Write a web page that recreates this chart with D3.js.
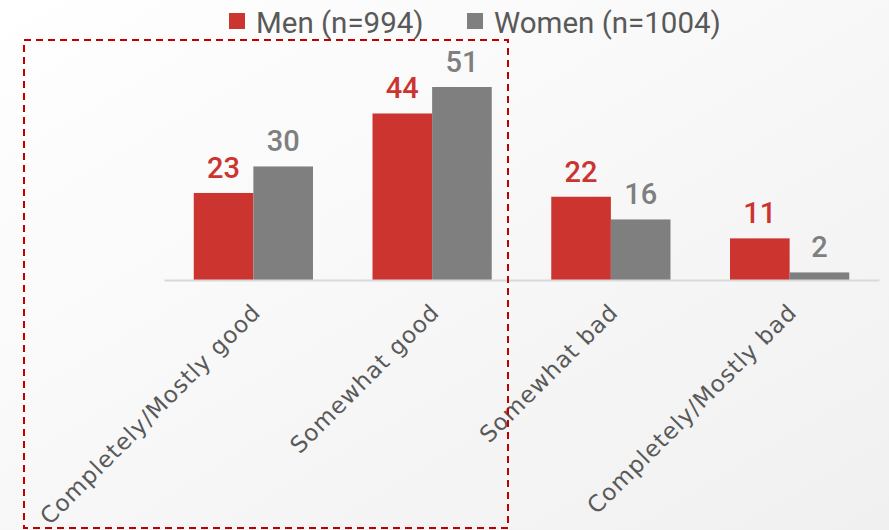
<!DOCTYPE html>
<html>
<head>
<meta charset="utf-8">
<script src="https://cdn.jsdelivr.net/npm/d3@7"></script>
<style>
  html, body { margin: 0; padding: 0; background: #fff; }
  svg { display: block; }
</style>
</head>
<body>
<svg id="chart" width="889" height="530"></svg>
<script>
const categories = ["Completely/Mostly good", "Somewhat good", "Somewhat bad", "Completely/Mostly bad"];
const seriesNames = ["Men (n=994)", "Women (n=1004)"];
const menValues = [23, 44, 22, 11];
const womenValues = [30, 51, 16, 2];
const seriesColors = ["#cc3430", "#7f7f7f"];

const W = 889, H = 530;
const svg = d3.select("#chart");

// background gradient
const defs = svg.append("defs");
const grad = defs.append("linearGradient").attr("id", "bg")
  .attr("x1", "0%").attr("y1", "0%").attr("x2", "100%").attr("y2", "100%");
grad.append("stop").attr("offset", "0%").attr("stop-color", "#ffffff");
grad.append("stop").attr("offset", "100%").attr("stop-color", "#f0f0f0");
svg.append("rect").attr("width", W).attr("height", H).attr("fill", "url(#bg)");

const baseY = 280;
const x0 = d3.scaleBand().domain(categories).range([164, 879]).paddingInner(0.333).paddingOuter(0.1665);
const x1 = d3.scaleBand().domain(seriesNames).range([0, x0.bandwidth()]);
const y = d3.scaleLinear().domain([0, 51]).range([baseY, 87]);

const data = categories.map((c, i) => ({cat: c, vals: [menValues[i], womenValues[i]]}));

const groups = svg.append("g").selectAll("g").data(data).join("g")
  .attr("transform", d => `translate(${x0(d.cat)},0)`);

groups.selectAll("rect").data(d => d.vals.map((v, j) => ({v, s: seriesNames[j], j})))
  .join("rect")
  .attr("x", d => x1(d.s))
  .attr("y", d => y(d.v))
  .attr("width", x1.bandwidth())
  .attr("height", d => baseY - y(d.v))
  .attr("fill", d => seriesColors[d.j]);

groups.selectAll("text.val").data(d => d.vals.map((v, j) => ({v, s: seriesNames[j], j})))
  .join("text")
  .attr("class", "val")
  .attr("x", d => x1(d.s) + x1.bandwidth() / 2)
  .attr("y", d => y(d.v) - 15)
  .attr("text-anchor", "middle")
  .attr("font-family", "Roboto, 'DejaVu Sans', sans-serif")
  .attr("font-size", 29)
  .attr("font-weight", 500)
  .attr("fill", d => seriesColors[d.j])
  .text(d => d.v);

// axis
const axis = d3.axisBottom(x0).tickSize(0).tickPadding(0);
const gAxis = svg.append("g").attr("transform", `translate(0,${baseY})`).call(axis);
gAxis.attr("font-family", null).attr("font-size", null);
gAxis.select(".domain").attr("stroke", "#d9d9d9").attr("stroke-width", 2);
gAxis.selectAll(".tick text")
  .attr("font-family", "'DejaVu Sans', sans-serif")
  .attr("font-size", 23)
  .attr("letter-spacing", 1)
  .attr("fill", "#595959")
  .attr("text-anchor", "end")
  .attr("dy", "0.35em")
  .attr("transform", "translate(3,28) rotate(-45)");

// legend
const legend = svg.append("g").attr("transform", "translate(229,0)");
const legX = [0, 238];
seriesNames.forEach((n, i) => {
  const g = legend.append("g").attr("transform", `translate(${legX[i]},0)`);
  g.append("rect").attr("x", 0).attr("y", 13).attr("width", 16).attr("height", 16).attr("fill", seriesColors[i]);
  g.append("text").attr("x", 27).attr("y", 33)
    .attr("font-family", "Roboto, 'DejaVu Sans', sans-serif")
    .attr("font-size", 29.5)
    .attr("fill", "#595959")
    .text(n);
});

// dashed highlight box
svg.append("rect")
  .attr("x", 24).attr("y", 40).attr("width", 484).attr("height", 488)
  .attr("fill", "none").attr("stroke", "#c00000").attr("stroke-width", 2)
  .attr("stroke-dasharray", "7,5");
</script>
</body>
</html>
